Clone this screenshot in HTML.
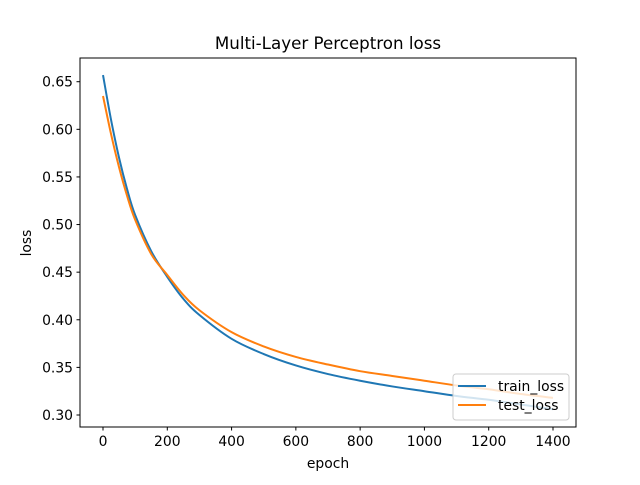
<!DOCTYPE html>
<html><head><meta charset="utf-8"><style>
body{margin:0;background:#fff;}
svg text{font-family:"DejaVu Sans","Liberation Sans",sans-serif;fill:#000;}
</style></head><body>
<svg width="640" height="480" viewBox="0 0 640 480">
<rect width="640" height="480" fill="#fff"/>
<text x="328" y="49" font-size="16.7" text-anchor="middle">Multi-Layer Perceptron loss</text>
<g id="plot"></g>
<rect x="80" y="58" width="496" height="369" fill="none" stroke="#000" stroke-width="1"/>
<text x="328" y="468" font-size="13.9" text-anchor="middle">epoch</text>
<text transform="translate(31,243) rotate(-90)" font-size="13.9" text-anchor="middle">loss</text>
<g>
<rect x="453" y="374" width="116" height="46" rx="3" fill="#fff" fill-opacity="0.8" stroke="#ccc"/>
<line x1="458" y1="386" x2="486" y2="386" stroke="#1f77b4" stroke-width="2"/>
<text x="498" y="391" font-size="13.9">train_loss</text>
<line x1="458" y1="405" x2="486" y2="405" stroke="#ff7f0e" stroke-width="2"/>
<text x="498" y="410" font-size="13.9">test_loss</text>
</g>
</svg>
<script>
const epochs=[0,25,50,75,100,150,200,250,300,400,500,600,700,800,900,1000,1100,1200,1300,1400];
const trainLoss=[0.657,0.610,0.570,0.537,0.510,0.472,0.445,0.422,0.405,0.380,0.364,0.352,0.343,0.336,0.330,0.325,0.320,0.316,0.311,0.306];
const testLoss=[0.635,0.595,0.560,0.530,0.505,0.469,0.447,0.426,0.410,0.387,0.372,0.361,0.353,0.346,0.341,0.336,0.331,0.327,0.322,0.318];
const xTicks=[0,200,400,600,800,1000,1200,1400];
const yTicks=[0.30,0.35,0.40,0.45,0.50,0.55,0.60,0.65];
const NS="http://www.w3.org/2000/svg";
const xmin=-71.6,xmax=1471.6,ymin=0.2874,ymax=0.6749;
const L=80,R=576,T=58,B=427;
function sx(v){return L+(v-xmin)/(xmax-xmin)*(R-L);}
function sy(v){return B-(v-ymin)/(ymax-ymin)*(B-T);}
const g=document.getElementById('plot');
function mk(t,a){const e=document.createElementNS(NS,t);for(const k in a)e.setAttribute(k,a[k]);g.appendChild(e);return e;}
xTicks.forEach(v=>{
 const l=mk('line',{x1:sx(v),x2:sx(v),y1:B,y2:B+3.5,stroke:'#000'});
 
 
 const t=mk('text',{x:sx(v),y:B+19,'font-size':13.9,'text-anchor':'middle'});
 t.textContent=v;
 
 
});
yTicks.forEach(v=>{
 const l=mk('line',{x1:L-3.5,x2:L,y1:sy(v),y2:sy(v),stroke:'#000'});
 
 
 const t=mk('text',{x:L-7,y:sy(v)+5,'font-size':13.9,'text-anchor':'end'});
 t.textContent=v.toFixed(2);
 
 
});
function line(ys,c,name){
 const P=epochs.map((e,i)=>[sx(e),sy(ys[i])]);
 let d='M'+P[0][0].toFixed(2)+','+P[0][1].toFixed(2);
 for(let i=0;i<P.length-1;i++){
  const p0=P[Math.max(i-1,0)],p1=P[i],p2=P[i+1],p3=P[Math.min(i+2,P.length-1)];
  const c1=[p1[0]+(p2[0]-p0[0])/6,p1[1]+(p2[1]-p0[1])/6];
  const c2=[p2[0]-(p3[0]-p1[0])/6,p2[1]-(p3[1]-p1[1])/6];
  d+='C'+c1[0].toFixed(2)+','+c1[1].toFixed(2)+' '+c2[0].toFixed(2)+','+c2[1].toFixed(2)+' '+p2[0].toFixed(2)+','+p2[1].toFixed(2);
 }
 const p=mk('path',{d:d,fill:'none',stroke:c,'stroke-width':2,'stroke-linejoin':'round'});
 
 
}
line(trainLoss,'#1f77b4','train-loss-line');
line(testLoss,'#ff7f0e','test-loss-line');
</script>
</body></html>
